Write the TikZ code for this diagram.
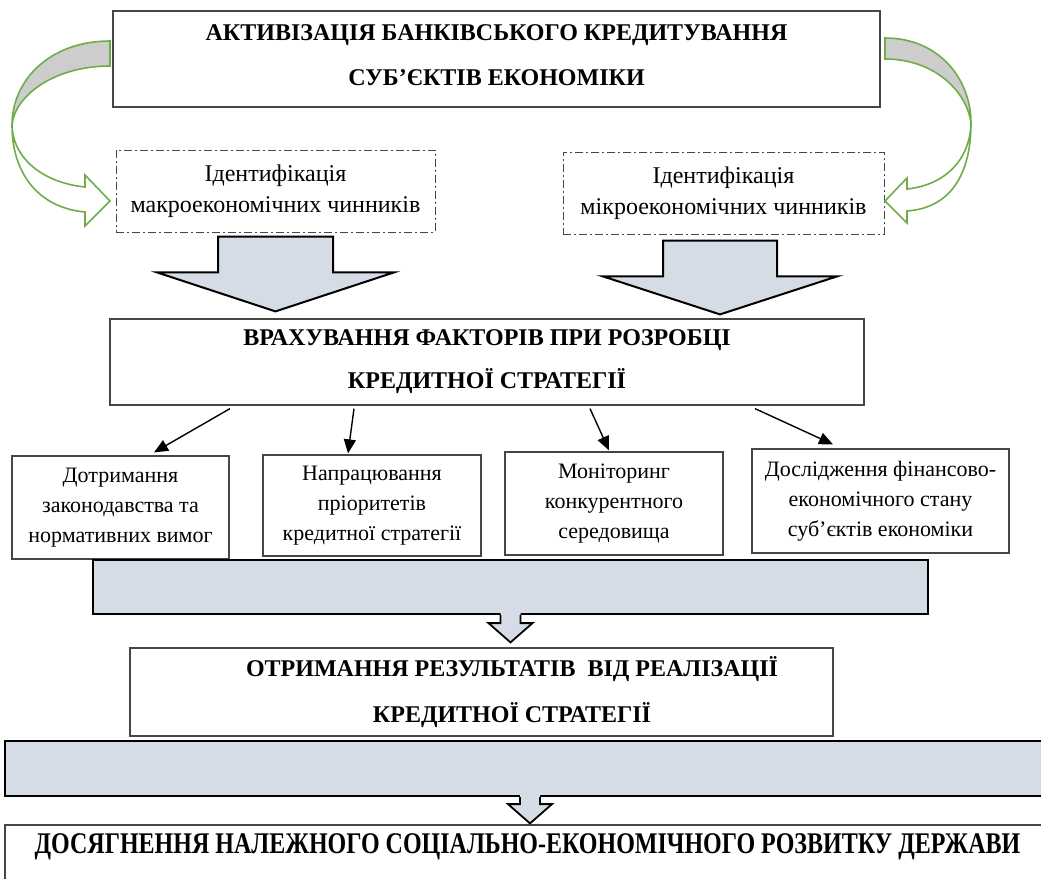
\documentclass[tikz,border=0pt]{standalone}
\usepackage{fontspec}
\setmainfont{Liberation Serif}
\usepackage{graphicx}
\usepackage{tikz}
\usetikzlibrary{positioning, arrows.meta, calc}
\definecolor{arrowgreen}{RGB}{112,173,71}
\definecolor{bandgray}{RGB}{205,205,205}
\definecolor{barfill}{RGB}{214,220,229}
\definecolor{framegray}{RGB}{70,70,70}

\begin{document}
\begin{tikzpicture}[x=0.5pt, y=-0.5pt,
    titlebox/.style={draw=framegray, line width=0.6pt, fill=white, inner sep=0pt, align=center,
      font=\fontsize{12}{22.5}\selectfont\bfseries},
    titletext/.style={inner sep=0pt, align=center, font=\fontsize{12}{23}\selectfont\bfseries},
    idbox/.style={draw=framegray, line width=0.5pt, dash pattern=on 4pt off 1.5pt on 1pt off 1.5pt,
      inner sep=0pt, align=center, font=\fontsize{12}{15.5}\selectfont},
    factorbox/.style={draw=framegray, line width=0.6pt, inner sep=0pt, align=center,
      font=\fontsize{11}{15}\selectfont},
    bar/.style={draw=black, line width=1.1pt, fill=barfill},
    blockarrow/.style={draw=black, line width=1pt, fill=barfill, line join=miter},
    greenarrow/.style={draw=arrowgreen, line width=0.8pt},
    arr/.style={-{Triangle[length=7pt,width=6pt]}, line width=0.7pt}]
  \useasboundingbox (0,0) rectangle (1041,879);

  % Main goal
  \node[titlebox, minimum width=383.5pt, minimum height=48pt] (top) at (496.5,59) {};
  \node[titletext, font=\fontsize{12}{22.5}\selectfont\bfseries] (toptext) at ([yshift=2pt]top.center)
    {АКТИВІЗАЦІЯ БАНКІВСЬКОГО КРЕДИТУВАННЯ\\СУБ’ЄКТІВ ЕКОНОМІКИ};

  % Identification of factors
  \node[idbox, minimum width=159.5pt, minimum height=41pt] (macro) at (275.5,191)
    {Ідентифікація\\макроекономічних чинників};
  \node[idbox, minimum width=160.5pt, minimum height=41pt] (micro) at (723.5,193)
    {Ідентифікація\\мікроекономічних чинників};

  % Curved arrows from the goal
  \filldraw[greenarrow, fill=bandgray] (110,41) .. controls (50,41) and (12,80) .. (12,125)
    .. controls (15,95) and (55,66) .. (110,66) -- cycle;
  \filldraw[greenarrow, fill=white] (12,125) .. controls (13,160) and (45,183) .. (85,187)
    -- (85,175) -- (110,201) -- (85,226) -- (85,212) .. controls (40,208) and (12,175) .. (12,125);
  \filldraw[greenarrow, fill=bandgray] (885,38) .. controls (940,38) and (971,80) .. (971,123)
    .. controls (967,92) and (935,59) .. (885,59) -- cycle;
  \filldraw[greenarrow, fill=white] (971,123) .. controls (970,160) and (945,185) .. (907,189)
    -- (907,178) -- (885,201) -- (907,223) -- (907,211) .. controls (950,208) and (971,175) .. (971,123);

  % Strategy box
  \node[titlebox, minimum width=377pt, minimum height=43pt, font=\fontsize{12}{21.5}\selectfont\bfseries] (mid) at (487,362)
    {ВРАХУВАННЯ ФАКТОРІВ ПРИ РОЗРОБЦІ\\КРЕДИТНОЇ СТРАТЕГІЇ};

  % Block arrows into the strategy box
  \filldraw[blockarrow] let \p1=(macro.south), \p2=(mid.north) in
    (\x1-28.75pt,\y1-2pt) -- (\x1+28.75pt,\y1-2pt) -- (\x1+28.75pt,\y2+23pt) -- (\x1+59.25pt,\y2+23pt)
    -- (\x1,\y2+3.5pt) -- (\x1-59.25pt,\y2+23pt) -- (\x1-28.75pt,\y2+23pt) -- cycle;
  \filldraw[blockarrow] let \p1=([xshift=-1.75pt]micro.south), \p2=(mid.north) in
    (\x1-28.5pt,\y1-3pt) -- (\x1+28.5pt,\y1-3pt) -- (\x1+28.5pt,\y2+21pt) -- (\x1+58.5pt,\y2+21pt)
    -- (\x1,\y2+2pt) -- (\x1-58.5pt,\y2+21pt) -- (\x1-28.5pt,\y2+21pt) -- cycle;

  % Directions of the strategy
  \node[factorbox, minimum width=108.5pt, minimum height=51.5pt] (law) at (120.5,507.5)
    {Дотримання\\законодавства та\\нормативних вимог};
  \node[factorbox, minimum width=109pt, minimum height=50.5pt] (prior) at (372,505.5)
    {Напрацювання\\пріоритетів\\кредитної стратегії};
  \node[factorbox, minimum width=109pt, minimum height=51.5pt] (monitor) at (614,503.5)
    {Моніторинг\\конкурентного\\середовища};
  \node[factorbox, minimum width=128.5pt, minimum height=52pt] (study) at (880.5,501)
    {Дослідження фінансово-\\економічного стану\\суб’єктів економіки};

  \draw[arr] ([xshift=-128.5pt,yshift=-1.5pt]mid.south) -- ([xshift=16.75pt,yshift=1.5pt]law.north);
  \draw[arr] ([xshift=-66.5pt,yshift=-1.5pt]mid.south) -- ([xshift=-12pt,yshift=0.5pt]prior.north);
  \draw[arr] ([xshift=51.5pt,yshift=-1.5pt]mid.south) -- ([xshift=-2.5pt,yshift=0.5pt]monitor.north);
  \draw[arr] ([xshift=134pt,yshift=-1.5pt]mid.south) -- ([xshift=-23.75pt,yshift=2pt]study.north);

  % Results
  \node[bar, minimum width=417.5pt, minimum height=27pt] (bar1) at (510.5,587) {};
  \node[titlebox, minimum width=351.5pt, minimum height=44pt] (res) at (481.5,692) {};
  \node[titletext] (restext) at ([xshift=15.25pt]res.center)
    {ОТРИМАННЯ РЕЗУЛЬТАТІВ\ \ ВІД РЕАЛІЗАЦІЇ\\КРЕДИТНОЇ СТРАТЕГІЇ};
  \fill[barfill] let \p1=(bar1.south), \p2=(res.north) in
    (\x1-5pt,\y1+1pt) -- (\x1-5pt,\y1-4pt) -- (\x1-11pt,\y1-4pt) -- (\x1,\y2+2.5pt)
    -- (\x1+11pt,\y1-4pt) -- (\x1+5pt,\y1-4pt) -- (\x1+5pt,\y1+1pt) -- cycle;
  \draw[line width=0.9pt, line join=miter] let \p1=(bar1.south), \p2=(res.north) in
    (\x1-5pt,\y1) -- (\x1-5pt,\y1-4pt) -- (\x1-11pt,\y1-4pt) -- (\x1,\y2+2.5pt)
    -- (\x1+11pt,\y1-4pt) -- (\x1+5pt,\y1-4pt) -- (\x1+5pt,\y1);

  % Final goal
  \node[bar, minimum width=525pt, minimum height=27.5pt] (bar2) at (530,768.5) {};
  \node[titlebox, minimum width=525pt, minimum height=37.5pt] (goal) at (530,862.5) {};
  \node[inner sep=0pt, font=\fontsize{15}{18}\selectfont\bfseries] (goaltext) at (527.5,847)
    {\scalebox{0.8}[1]{ДОСЯГНЕННЯ НАЛЕЖНОГО СОЦІАЛЬНО-ЕКОНОМІЧНОГО РОЗВИТКУ ДЕРЖАВИ}};
  \fill[barfill] let \p1=(bar2.south), \p2=(goal.north) in
    (\x1-5pt,\y1+1pt) -- (\x1-5pt,\y1-3.5pt) -- (\x1-11pt,\y1-3.5pt) -- (\x1,\y2+0.5pt)
    -- (\x1+11pt,\y1-3.5pt) -- (\x1+5pt,\y1-3.5pt) -- (\x1+5pt,\y1+1pt) -- cycle;
  \draw[line width=0.9pt, line join=miter] let \p1=(bar2.south), \p2=(goal.north) in
    (\x1-5pt,\y1) -- (\x1-5pt,\y1-3.5pt) -- (\x1-11pt,\y1-3.5pt) -- (\x1,\y2+0.5pt)
    -- (\x1+11pt,\y1-3.5pt) -- (\x1+5pt,\y1-3.5pt) -- (\x1+5pt,\y1);
\end{tikzpicture}
\end{document}
